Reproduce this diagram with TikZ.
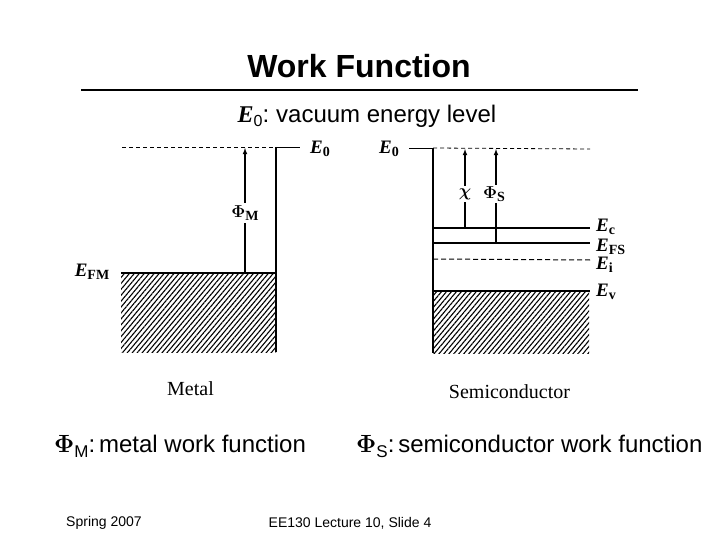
\documentclass[tikz,border=0pt]{standalone}
\usepackage{amsmath}
\usepackage{fontspec}
\setmainfont{Liberation Sans}
\newfontfamily\scanfont{Liberation Serif}
\usetikzlibrary{patterns.meta}
\tikzset{
   slidetxt/.style={inner sep=0pt,font=\fontsize{24}{28}\selectfont},
   smalltxt/.style={inner sep=0pt,font=\fontsize{14}{16}\selectfont},
   band/.style={inner sep=0pt,font=\scanfont\bfseries\fontsize{19}{21}\selectfont},
   caption/.style={inner sep=0pt,font=\scanfont\fontsize{20}{23}\selectfont},
   level/.style={line width=1.5pt},
   wall/.style={line width=1.8pt},
   vac/.style={line width=0.8pt,dash pattern=on 4pt off 3pt},
   gap/.style={-latex,line width=1.1pt},
   hatch/.style={pattern={Lines[angle=50,distance=3.8pt,line width=1.1pt]}}
}
\newcommand{\bandlabel}[2]{\textit{#1}{\fontsize{14}{15}\selectfont\raisebox{-3pt}{#2}}}
\newcommand{\phisub}[1]{$\boldsymbol{\Phi}$\raisebox{-3pt}{\fontsize{14}{15}\selectfont #1}}
\newcommand{\phinote}[1]{$\boldsymbol{\Phi}$\raisebox{-5pt}{\fontsize{17}{18}\selectfont #1}}
\begin{document}
\begin{tikzpicture}[x=1pt,y=-1pt]
\useasboundingbox (0,0) rectangle (720,540);
\fill[white] (0,0) rectangle (720,540);
% heading
\node[inner sep=0pt,font=\bfseries\fontsize{32}{36}\selectfont] (title) at (359,66.5) {Work Function};
\coordinate (ruleL) at (81,90);
\coordinate (ruleR) at (638,90);
\draw[line width=2.8pt] (ruleL) -- (ruleR);
\node[slidetxt] (vacnote) at (367,116) {{\scanfont\bfseries\itshape E}\raisebox{-4pt}{\fontsize{16}{18}\selectfont 0}:\hspace{-2pt} vacuum energy level};
% metal
\fill[hatch] (121,273) rectangle (276,352);
\coordinate (mvacL) at (122,147);
\coordinate (mvacR) at (276,147);
\coordinate (mtick) at (300,147);
\coordinate (mwallT) at (276,147);
\coordinate (mwallB) at (276,352);
\coordinate (mfermiL) at (121,273);
\coordinate (mfermiR) at (276,273);
\coordinate (mgapB) at (245,273);
\coordinate (mgapT) at (245,148);
\draw[vac] (mvacL) -- (mvacR);
\draw[line width=0.8pt] (mvacR) -- (mtick);
\draw[wall] (mwallT) -- (mwallB);
\draw[level] (mfermiL) -- (mfermiR);
\draw[gap] (mgapB) -- (mgapT);
\node[band,fill=white,inner xsep=1pt,inner ysep=3pt] (phiM) at (245,213) {\phisub{M}};
\node[band] (E0m) at (320,149) {\bandlabel{E}{0}};
\node[band] (EFM) at (92,272) {\bandlabel{E}{FM}};
\node[caption] (metal) at (190.5,389) {Metal};
% semiconductor
\fill[hatch] (433,291) rectangle (589,353);
\coordinate (stick) at (409,148);
\coordinate (swallT) at (433,148);
\coordinate (swallB) at (433,353);
\coordinate (svacR) at (590,149);
\coordinate (ecL) at (433,228);
\coordinate (ecR) at (590,228);
\coordinate (efL) at (433,243);
\coordinate (efR) at (590,243);
\coordinate (eiL) at (433,259);
\coordinate (eiR) at (590,260);
\coordinate (evL) at (433,291);
\coordinate (evR) at (590,291);
\coordinate (chiB) at (465,228);
\coordinate (chiT) at (465,149);
\coordinate (phiB) at (496,243);
\coordinate (phiT) at (496,149);
\draw[line width=0.8pt] (stick) -- (swallT);
\draw[vac] (swallT) -- (svacR);
\draw[wall] (swallT) -- (swallB);
\draw[level] (ecL) -- (ecR);
\draw[level] (efL) -- (efR);
\draw[line width=1pt,dash pattern=on 5pt off 3pt] (eiL) -- (eiR);
\draw[level] (evL) -- (evR);
\draw[gap] (chiB) -- (chiT);
\draw[gap] (phiB) -- (phiT);
\node[band,fill=white,inner xsep=1pt,inner ysep=2pt,font=\bfseries\fontsize{19}{21}\selectfont] (chi) at (465,194) {$\boldsymbol{\chi}$};
\node[band,fill=white,inner xsep=1pt,inner ysep=2pt] (phiS) at (494,194) {\phisub{S}};
\node[band] (E0s) at (389,149) {\bandlabel{E}{0}};
\node[band,anchor=west] (Ec) at (596,227) {\bandlabel{E}{c}};
\node[band,anchor=west] (EFS) at (596,247) {\bandlabel{E}{FS}};
\node[band,anchor=west] (Ei) at (596,265) {\bandlabel{E}{i}};
\node[band,anchor=west] (Ev) at (596,292) {\bandlabel{E}{v}};
\node[caption] (semi) at (509.5,392) {Semiconductor};
% notes and footer
\node[slidetxt,anchor=base west] (noteM) at (54,452) {\phinote{M}:\hspace{-5pt} metal work function};
\node[slidetxt,anchor=base west] (noteS) at (356,452) {\phinote{S}:\hspace{-5pt} semiconductor work function};
\node[smalltxt] (date) at (104,522.5) {Spring 2007};
\node[smalltxt] (slide) at (350,523) {EE130 Lecture 10, Slide 4};
\end{tikzpicture}
\end{document}
